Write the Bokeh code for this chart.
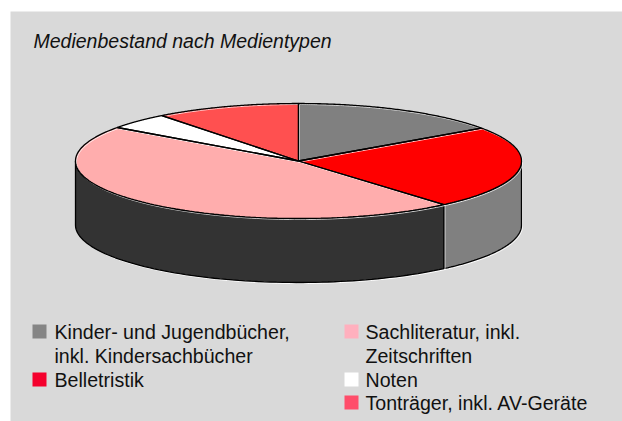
import numpy as np
from bokeh.plotting import figure
from bokeh.models import Range1d
from bokeh.core.properties import value
from bokeh.embed import file_html
from bokeh.resources import INLINE

title = "Medienbestand nach Medientypen"
categories = ["Kinder- und Jugendbücher,\ninkl. Kindersachbücher", "Belletristik",
              "Sachliteratur, inkl.\nZeitschriften", "Noten", "Tonträger, inkl. AV-Geräte"]
shares = [15.3, 23.4, 46.2, 4.6, 10.5]
top_colors = ["#808080", "#ff0000", "#ffadad", "#ffffff", "#ff5050"]
side_colors = ["#808080", "#808080", "#333333", "#808080", "#802828"]
legend_colors = ["#858585", "#f5002d", "#ffb0be", "#ffffff", "#ff4d6a"]

W, H = 622, 421
FONT = "Liberation Sans"
CX, CY, RX, RY, DEPTH = 298, 160.5, 223, 57.5, 64

# data coordinates equal picture pixels
p = figure(width=W, height=H, toolbar_location=None, output_backend="svg",
           x_range=Range1d(0, W), y_range=Range1d(H, 0), min_border=0,
           background_fill_color="#ffffff", border_fill_color="#ffffff", outline_line_color=None)
p.axis.visible = False
p.grid.visible = False
p.quad(left=[10], right=[W], top=[11], bottom=[H], fill_color="#d9d9d9", line_color=None)

edges = np.cumsum([0] + shares) / sum(shares) * 2 * np.pi

def ell(a):
    return CX + RX * np.sin(a), CY - RY * np.cos(a)

for i in range(len(shares)):
    a0, a1 = max(edges[i], np.pi / 2), min(edges[i + 1], 3 * np.pi / 2)
    if a1 <= a0:
        continue
    t = np.linspace(a0, a1, 80)
    x, y = ell(t)
    xs = np.r_[x, x[::-1]]
    ys = np.r_[y, y[::-1] + DEPTH]
    p.patch(xs + 1, ys + 1, fill_color=None, line_color="#ffffff", line_width=1)
    p.patch(xs, ys, fill_color=side_colors[i], line_color="#000000", line_width=1.3)

for i in range(len(shares)):
    t = np.linspace(edges[i], edges[i + 1], 120)
    x, y = ell(t)
    xs = np.r_[CX, x]
    ys = np.r_[CY, y]
    p.patch(xs, ys, fill_color=top_colors[i], line_color=None)
    p.line(np.r_[xs, CX] + 1, np.r_[ys, CY] + 1, line_color="#ffffff", line_width=0.8)
for i in range(len(shares)):
    t = np.linspace(edges[i], edges[i + 1], 120)
    x, y = ell(t)
    p.line(np.r_[CX, x, CX], np.r_[CY, y, CY], line_color="#000000", line_width=1.3)

p.text([33], [40], text=[title], text_font=value(FONT), text_font_size="19.5px",
       text_font_style="italic", text_color="#111111", text_baseline="middle")

rows = [(32, 54, 331, 0), (32, 54, 379, 1), (344, 365, 331, 2), (344, 365, 379, 3), (344, 365, 402, 4)]
for bx, tx, by, i in rows:
    p.rect([bx + 7], [by], width=14, height=14, fill_color=legend_colors[i], line_color=None)
    for j, line in enumerate(categories[i].split("\n")):
        p.text([tx], [by + j * 24], text=[line], text_font=value(FONT), text_font_size="19.6px",
               text_color="#111111", text_baseline="middle")

open("out.html", "w").write(file_html(p, INLINE))
